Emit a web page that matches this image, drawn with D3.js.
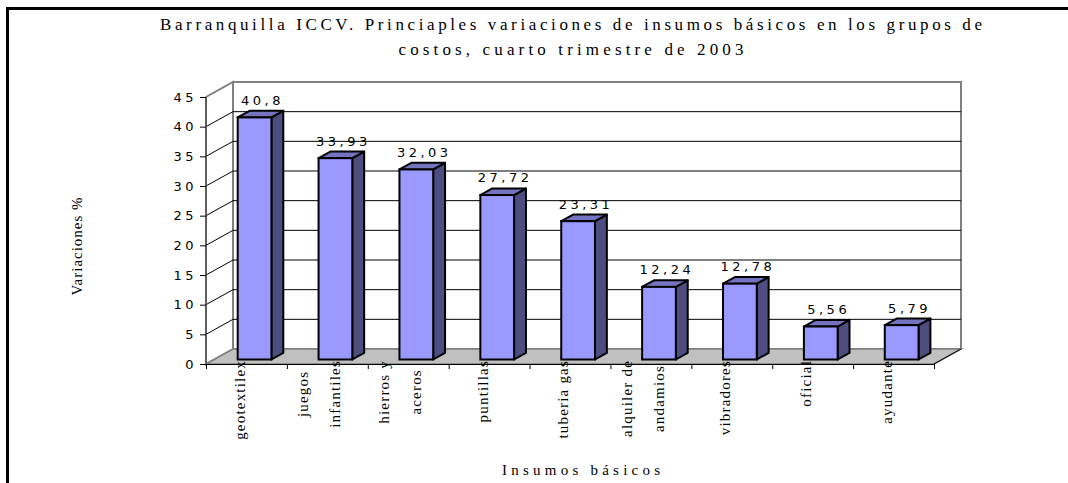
<!DOCTYPE html>
<html>
<head>
<meta charset="utf-8">
<script src="https://cdn.jsdelivr.net/npm/d3@7"></script>
<style>
  body { margin: 0; background: #ffffff; }
  svg { display: block; }
</style>
</head>
<body>
<div id="chart"></div>
<script>
var w = 1068;
var h = 483;

// chart data
var categories = ['geotextilex', 'juegos infantiles', 'hierros y aceros', 'puntillas',
  'tuberia gas', 'alquiler de andamios', 'vibradores', 'oficial', 'ayudante'];
var labelLines = [['geotextilex'], ['juegos', 'infantiles'], ['hierros y', 'aceros'], ['puntillas'],
  ['tuberia gas'], ['alquiler de', 'andamios'], ['vibradores'], ['oficial'], ['ayudante']];
var values = [40.8, 33.93, 32.03, 27.72, 23.31, 12.24, 12.78, 5.56, 5.79];
var yTicks = [0, 5, 10, 15, 20, 25, 30, 35, 40, 45];
var titleLines = ['Barranquilla ICCV. Princiaples variaciones de insumos básicos en los grupos de',
  'costos, cuarto trimestre de 2003'];

// 3d depth of the plot box
var DX = 27;
var DY = -15;

var svg = d3.select('#chart')
  .append('svg')
    .attr('width', w)
    .attr('height', h)
    .style('background', '#ffffff');

// outer frame
svg.append('rect')
  .attr('x', 7.5)
  .attr('y', 8.5)
  .attr('width', 1200)
  .attr('height', 600)
  .attr('fill', 'none')
  .attr('stroke', '#000')
  .attr('stroke-width', 3);

var x = d3.scaleBand()
  .domain(categories)
  .range([206, 934]);

var y = d3.scaleLinear()
  .domain([0, 45])
  .range([364, 97]);

var x0 = x.range()[0], x1 = x.range()[1];
var yTop = y(45), yBase = y(0);

// walls and floor
svg.append('polygon')
  .attr('points', [[x0, yTop], [x0 + DX, yTop + DY], [x0 + DX, yBase + DY], [x0, yBase]].join(' '))
  .attr('fill', '#fff')
  .attr('stroke', '#808080')
  .attr('stroke-width', 2);
svg.append('rect')
  .attr('x', x0 + DX)
  .attr('y', yTop + DY)
  .attr('width', x1 - x0)
  .attr('height', yBase - yTop)
  .attr('fill', '#fff')
  .attr('stroke', '#808080')
  .attr('stroke-width', 2);

// gridlines on back wall and side wall
var grid = yTicks.filter(function(t) { return t > 0 && t < 45; });
svg.selectAll('.grid')
  .data(grid)
  .enter()
  .append('line')
    .attr('class', 'grid')
    .attr('x1', x0 + DX)
    .attr('x2', x1 + DX)
    .attr('y1', function(d) { return y(d) + DY; })
    .attr('y2', function(d) { return y(d) + DY; })
    .attr('stroke', '#000')
    .attr('stroke-width', 1);
svg.selectAll('.side-grid')
  .data(grid)
  .enter()
  .append('line')
    .attr('class', 'side-grid')
    .attr('x1', x0)
    .attr('x2', x0 + DX)
    .attr('y1', function(d) { return y(d); })
    .attr('y2', function(d) { return y(d) + DY; })
    .attr('stroke', '#000')
    .attr('stroke-width', 1);

svg.append('polygon')
  .attr('points', [[x0, yBase], [x0 + DX, yBase + DY], [x1 + DX, yBase + DY], [x1, yBase]].join(' '))
  .attr('fill', '#c0c0c0')
  .attr('stroke', '#808080')
  .attr('stroke-width', 1.5);

// front axes
svg.append('line')
  .attr('x1', x0).attr('x2', x0)
  .attr('y1', yTop).attr('y2', yBase)
  .attr('stroke', '#555')
  .attr('stroke-width', 1.5);
svg.append('line')
  .attr('x1', x0).attr('x2', x1)
  .attr('y1', yBase + 0.5).attr('y2', yBase + 0.5)
  .attr('stroke', '#000');
svg.append('line')
  .attr('x1', x1).attr('x2', x1 + DX)
  .attr('y1', yBase).attr('y2', yBase + DY)
  .attr('stroke', '#000');

svg.selectAll('.ytick')
  .data(yTicks)
  .enter()
  .append('line')
    .attr('class', 'ytick')
    .attr('x1', x0 - 6)
    .attr('x2', x0)
    .attr('y1', function(d) { return y(d) + 0.5; })
    .attr('y2', function(d) { return y(d) + 0.5; })
    .attr('stroke', '#000');

svg.selectAll('.ylabel')
  .data(yTicks)
  .enter()
  .append('text')
    .attr('class', 'ylabel')
    .attr('x', x0 - 9)
    .attr('y', function(d) { return y(d); })
    .attr('dy', '0.36em')
    .attr('text-anchor', 'end')
    .style('font-family', 'DejaVu Sans')
    .style('font-size', '13px')
    .style('letter-spacing', '3.5px')
    .text(function(d) { return d; });

var bounds = categories.concat(['end']);
svg.selectAll('.xtick')
  .data(bounds)
  .enter()
  .append('line')
    .attr('class', 'xtick')
    .attr('x1', function(d, i) { return x0 + i * x.step() + 0.5; })
    .attr('x2', function(d, i) { return x0 + i * x.step() + 0.5; })
    .attr('y1', yBase)
    .attr('y2', yBase + 5)
    .attr('stroke', '#000');

// 3d bars
var f1 = 0.3, f2 = 0.44;
var ox = f1 * DX, oy = f1 * DY;
var bx = f2 * DX, by = f2 * DY;
var bw = x.step() * 0.417;

var bars = svg.selectAll('.bar')
  .data(values)
  .enter()
  .append('g')
    .attr('class', 'bar');

function fx(d, i) { return x(categories[i]) + (x.step() - bw) / 2 + ox; }
function ty(d) { return y(d) + oy; }

bars.append('polygon')
  .attr('points', function(d, i) {
    var l = fx(d, i) + bw, t = ty(d), b = yBase + oy;
    return [[l, t], [l + bx, t + by], [l + bx, b + by], [l, b]].join(' ');
  })
  .attr('fill', '#4d4d80')
  .attr('stroke', '#000')
  .attr('stroke-width', 2)
  .attr('stroke-linejoin', 'round');
bars.append('polygon')
  .attr('points', function(d, i) {
    var l = fx(d, i), t = ty(d);
    return [[l, t], [l + bx, t + by], [l + bw + bx, t + by], [l + bw, t]].join(' ');
  })
  .attr('fill', '#7373bf')
  .attr('stroke', '#000')
  .attr('stroke-width', 2)
  .attr('stroke-linejoin', 'round');
bars.append('rect')
  .attr('x', fx)
  .attr('y', ty)
  .attr('width', bw)
  .attr('height', function(d) { return yBase + oy - ty(d); })
  .attr('fill', '#9999ff')
  .attr('stroke', '#000')
  .attr('stroke-width', 2);

bars.append('text')
  .attr('x', function(d, i) { return fx(d, i) + (bw + bx) / 2 + 2; })
  .attr('y', function(d) { return ty(d) + by - 6; })
  .attr('text-anchor', 'middle')
  .style('font-family', 'DejaVu Sans')
  .style('font-size', '13px')
  .style('letter-spacing', '3.5px')
  .text(function(d) { return String(d).replace('.', ','); });

// category labels, rotated
var labelTop = 360;
labelLines.forEach(function(lines, i) {
  var c = x(categories[i]) + x.step() / 2;
  var offs = lines.length == 1 ? [-5] : [-22.5, 9.5];
  var g = svg.append('g').attr('class', 'xlabel');
  var texts = lines.map(function(s, j) {
    return g.append('text')
      .attr('text-anchor', 'middle')
      .attr('dominant-baseline', 'middle')
      .style('font-family', 'Liberation Serif')
      .style('font-size', '15px')
      .style('letter-spacing', '1.2px')
      .text(s);
  });
  var maxLen = d3.max(texts, function(t) { return t.node().getComputedTextLength(); });
  texts.forEach(function(t, j) {
    t.attr('transform', 'translate(' + (c + offs[j]) + ',' + (labelTop + maxLen / 2) + ') rotate(-90)');
  });
});

// titles
svg.selectAll('.title')
  .data(titleLines)
  .enter()
  .append('text')
    .attr('class', 'title')
    .attr('x', 571)
    .attr('y', function(d, i) { return 30 + i * 25; })
    .attr('text-anchor', 'middle')
    .attr('textLength', function(d, i) { return i == 0 ? 822 : 345; })
    .attr('lengthAdjust', 'spacing')
    .style('font-family', 'Liberation Serif')
    .style('font-size', '17px')
    .text(function(d) { return d; });

svg.append('text')
  .attr('transform', 'translate(82,246) rotate(-90)')
  .attr('text-anchor', 'middle')
  .style('font-family', 'Liberation Serif')
  .style('font-size', '15px')
  .style('letter-spacing', '1px')
  .text('Variaciones %');

svg.append('text')
  .attr('x', 581)
  .attr('y', 475)
  .attr('text-anchor', 'middle')
  .attr('textLength', 158)
  .attr('lengthAdjust', 'spacing')
  .style('font-family', 'Liberation Serif')
  .style('font-size', '15px')
  .text('Insumos básicos');
</script>
</body>
</html>
